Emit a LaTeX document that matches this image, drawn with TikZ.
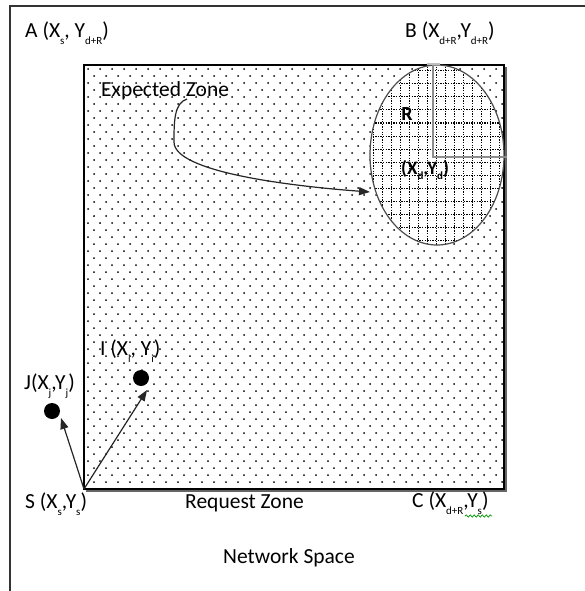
\documentclass[tikz,border=0pt]{standalone}
\usepackage{fontspec}
\setmainfont{Carlito}
\usetikzlibrary{arrows.meta,decorations.pathmorphing,shapes.geometric}
\newcommand\ssub[1]{\raisebox{-0.3em}{\fontsize{11}{11}\selectfont #1}}
\tikzset{
  lbl/.style={font=\fontsize{21.5}{23}\selectfont, inner sep=0pt, anchor=west},
  ptdot/.style={circle, fill=black, minimum size=16pt, inner sep=0pt},
  arr/.style={line width=1.2pt, draw=black!85, -{Triangle[length=11pt,width=8pt]}},
}
\begin{document}
\begin{tikzpicture}[x=1pt,y=-1pt]
\useasboundingbox (0,0) rectangle (585,591);
\fill[white] (0,0) rectangle (585,591);
% outer frame
\draw[line width=1.6pt, black!80] (10,591) -- (10,6) -- (585,6);
% dots
\foreach \j in {0,...,59}{
  \pgfmathtruncatemacro\odd{mod(\j,2)}
  \foreach \i in {0,...,34}{
    \fill[black] (88+12*\i+6*\odd, 69+7*\j) circle (1.0);
  }
}
% inner square
\draw[line width=1.4pt, black!60] (506,67) -- (506,491) -- (86,491);
\draw[line width=1.2pt, black] (84,65) rectangle (504,489);
% ellipse
\node[ellipse, draw=none, fill=white, minimum width=134pt, minimum height=180pt, inner sep=0pt] (ell) at (437,155) {};
\begin{scope}
  \clip (437,155) ellipse [x radius=67, y radius=90];
  \foreach \x in {373,382,...,505}{
    \draw[black, line width=1pt, dash pattern=on 1.3pt off 1.3pt] (\x,64) -- (\x,246);
  }
  \foreach \y in {71,84,...,246}{
    \draw[black, line width=1pt, dash pattern=on 1.3pt off 1.3pt] (370,\y) -- (505,\y);
  }
\end{scope}
\draw[line width=1.2pt, black!70] (437,155) ellipse [x radius=67, y radius=90];
% radius
\coordinate (rtop) at (433,65);
\coordinate (rcorner) at (433,157);
\coordinate (rend) at (507,157);
\draw[line width=1.3pt, black!45] (rtop) -- (rcorner) -- (rend);
\draw[line width=1.3pt, black!25] (427,64) -- (440,64);
\node[font=\bfseries\fontsize{20}{22}\selectfont, inner sep=0pt] (Rl) at (407,114) {R};
\node[lbl, font=\bfseries\fontsize{19}{21}\selectfont] (Dl) at (401,170) {(X\ssub{d},Y\ssub{d})};
% labels
\node[lbl] (A) at (25,33) {A (X\ssub{s}, Y\ssub{d+R})};
\node[lbl] (B) at (405,33) {B (X\ssub{d+R},Y\ssub{d+R})};
\node[lbl] (EZ) at (101,91) {Expected Zone};
\node[lbl] (Il) at (100,351) {I (X\ssub{i}, Y\ssub{i})};
\node[lbl] (Jl) at (24,386) {J(X\ssub{j},Y\ssub{j})};
\node[lbl] (Sl) at (25,504) {S (X\ssub{s},Y\ssub{s})};
\node[lbl] (RZ) at (185,503) {Request Zone};
\node[lbl] (Cl) at (412,503) {C (X\ssub{d+R},Y\ssub{s})};
\node[lbl] (NS) at (223,558) {Network Space};
\draw[green!60!black, line width=0.7pt, decorate, decoration={snake, amplitude=1.2pt, segment length=4pt}] (465,516) -- (492,516);
% points
\node[ptdot] (I) at (141,378) {};
\node[ptdot] (J) at (52,411) {};
\coordinate (S) at (84,489);
\draw[arr] (S) -- (61,418);
\draw[arr] (S) -- (147,390);
% expected zone arrow
\coordinate (ezs) at (187,99);
\coordinate (eze) at (370,192);
\draw[arr] (ezs) .. controls (174,103) and (174,122) .. (174,142)
  .. controls (174,172) and (290,186) .. (eze);
\end{tikzpicture}
\end{document}
